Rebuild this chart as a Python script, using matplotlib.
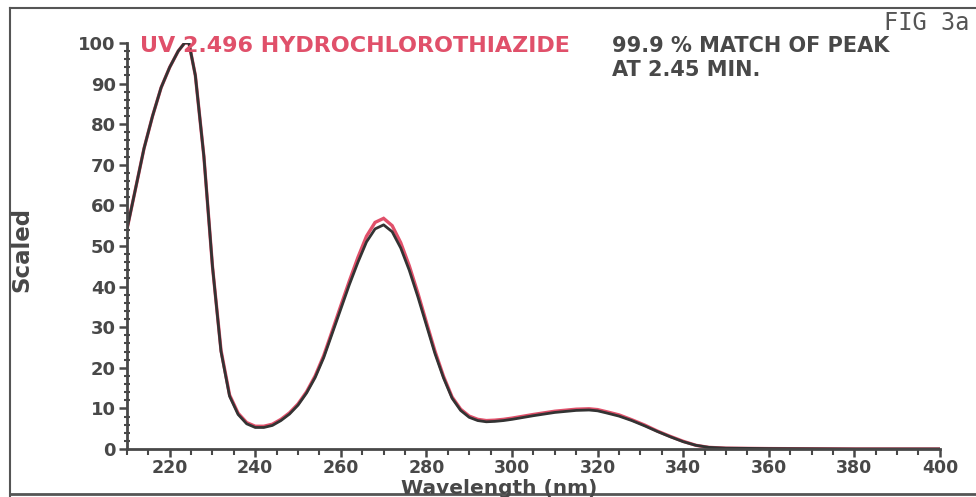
import matplotlib.pyplot as plt
from matplotlib.lines import Line2D
from matplotlib.ticker import MultipleLocator

# UV spectrum of the peak (scaled to 100) and the library reference
wavelength = [210, 212, 214, 216, 218, 220, 222, 223.5, 224.5, 226, 228, 230, 232, 234,
              236, 238, 240, 242, 244, 246, 248, 250, 252, 254, 256, 258, 260, 262,
              264, 266, 268, 270, 272, 274, 276, 278, 280, 282, 284, 286, 288, 290,
              292, 294, 296, 298, 300, 305, 310, 315, 318, 320, 322, 325, 328, 331,
              334, 337, 340, 343, 346, 350, 360, 380, 400]
sample = [54, 64, 74, 82, 89, 94, 98, 100, 100, 92, 72, 45, 24, 13,
          8.5, 6.2, 5.3, 5.3, 5.8, 7.0, 8.6, 10.8, 13.8, 17.6, 22.5, 28.5, 34.5, 40.5,
          46, 51, 54.2, 55.2, 53.5, 49.5, 44, 37.5, 30.5, 23.5, 17.5, 12.5, 9.5, 7.8,
          7.0, 6.7, 6.8, 7.0, 7.3, 8.2, 9.0, 9.5, 9.6, 9.4, 8.9, 8.1, 7.0, 5.7,
          4.3, 3.0, 1.8, 0.9, 0.4, 0.2, 0.1, 0.0, 0.0]
library = [54, 64, 74, 82, 89, 94, 98, 100, 100, 92, 72, 45, 24.3, 13.3,
           8.8, 6.5, 5.6, 5.6, 6.1, 7.3, 8.9, 11.1, 14.1, 18.0, 23.0, 29.1, 35.3, 41.4,
           47.2, 52.4, 55.8, 56.8, 55.0, 50.8, 45.1, 38.4, 31.2, 24.1, 17.9, 12.8, 9.8, 8.1,
           7.3, 7.0, 7.1, 7.3, 7.6, 8.5, 9.3, 9.8, 9.9, 9.7, 9.2, 8.4, 7.2, 5.9,
           4.4, 3.1, 1.9, 0.9, 0.4, 0.2, 0.1, 0.0, 0.0]

x_major = [220, 240, 260, 280, 300, 320, 340, 360, 380, 400]
y_major = [0, 10, 20, 30, 40, 50, 60, 70, 80, 90, 100]

grey = '#484848'
pink = '#e0506a'
font = dict(family='DejaVu Sans', weight='bold')

fig = plt.figure(figsize=(9.76, 4.97), dpi=100)
ax = fig.add_axes([0.130, 0.0966, 0.833, 0.817])

ax.plot(wavelength, library, color=pink, lw=2.4, solid_joinstyle='miter')
ax.plot(wavelength, sample, color='#333333', lw=2.0)

ax.set_xlim(210, 400)
ax.set_ylim(0, 100)
ax.set_xticks(x_major)
ax.set_yticks(y_major)
ax.xaxis.set_minor_locator(MultipleLocator(5))
ax.yaxis.set_minor_locator(MultipleLocator(2))
ax.set_xticklabels([str(v) for v in x_major], fontsize=12.5, color=grey, **font)
ax.set_yticklabels([str(v) for v in y_major], fontsize=13, color=grey, **font)
ax.tick_params(which='major', length=6, width=1.8, color=grey, pad=2)
ax.tick_params(axis='x', which='major', pad=1)
ax.tick_params(which='minor', length=4, width=1.5, color=grey)
ax.tick_params(axis='y', which='minor', direction='inout', length=5)

for side in ['top', 'right']:
    ax.spines[side].set_visible(False)
for side in ['left', 'bottom']:
    ax.spines[side].set_color(grey)
    ax.spines[side].set_linewidth(2)

# header texts
fig.text(140 / 976, 1 - 52 / 497, 'UV 2.496 HYDROCHLOROTHIAZIDE', color=pink,
         fontsize=16, va='baseline', ha='left', **font)
fig.text(612 / 976, 1 - 52 / 497, '99.9 % MATCH OF PEAK', color=grey,
         fontsize=15, va='baseline', ha='left', **font)
fig.text(612 / 976, 1 - 76 / 497, 'AT 2.45 MIN.', color=grey,
         fontsize=15, va='baseline', ha='left', **font)
fig.text(970 / 976, 1 - 30 / 497, 'FIG 3a', color='#555555', fontsize=17,
         va='baseline', ha='right', family='DejaVu Sans Mono')

fig.text(499 / 976, 1 - 494 / 497, 'Wavelength (nm)', color=grey, fontsize=14.5,
         va='baseline', ha='center', **font)
fig.text(22 / 976, 1 - 250 / 497, 'Scaled', color=grey, fontsize=16.5,
         va='center', ha='center', rotation=90, **font)

# page frame
fig.add_artist(Line2D([10 / 976, 10 / 976], [0, 1 - 8 / 497], transform=fig.transFigure,
                      color='#555555', lw=1.5))
fig.add_artist(Line2D([10 / 976, 1], [1 - 8 / 497, 1 - 8 / 497], transform=fig.transFigure,
                      color='#555555', lw=1.5))
fig.add_artist(Line2D([10 / 976, 1], [1 - 494 / 497, 1 - 494 / 497], transform=fig.transFigure,
                      color='#555555', lw=2))

fig.savefig('out.png', dpi=100)
